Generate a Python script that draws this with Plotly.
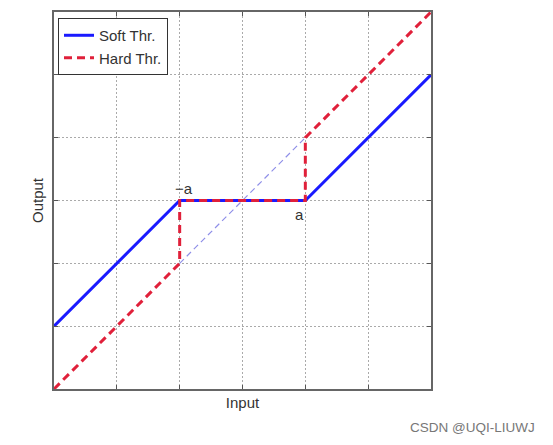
import plotly.graph_objects as go

# data
a = 1.0
x_soft = [-3, -1, 1, 3]
y_soft = [-2, 0, 0, 2]
x_hard = [-3, -1, -1, 1, 1, 3]
y_hard = [-3, -1, 0, 0, 1, 3]
x_ident = [-1, 1]
y_ident = [-1, 1]
grid_vals = [-3, -2, -1, 0, 1, 2, 3]

fig = go.Figure()
fig.add_trace(go.Scatter(x=x_ident, y=y_ident, mode="lines",
                         line=dict(color="#8f8fe8", width=1.2, dash="6px,4px"),
                         showlegend=False))
fig.add_trace(go.Scatter(x=x_soft, y=y_soft, mode="lines", name="Soft Thr.",
                         line=dict(color="#1a1aff", width=3)))
fig.add_trace(go.Scatter(x=x_hard, y=y_hard, mode="lines", name="Hard Thr.",
                         line=dict(color="#e0203a", width=3, dash="8px,5px")))

fig.add_annotation(x=-a, y=0, text="−a", showarrow=False, yshift=12, xshift=4,
                   font=dict(family="Liberation Sans, Arial", size=15, color="#333"))
fig.add_annotation(x=a, y=0, text="a", showarrow=False, yshift=-14, xshift=-6,
                   font=dict(family="Liberation Sans, Arial", size=15, color="#333"))

axis_common = dict(showticklabels=False, ticks="inside", ticklen=4, tickcolor="#555",
                   tickvals=grid_vals, showgrid=True, gridcolor="#aaa",
                   griddash="2px,2px", gridwidth=1, zeroline=False, automargin=False,
                   showline=True, linecolor="#666", linewidth=1.5, mirror="ticks")

fig.update_xaxes(range=[-3, 3], title=dict(text="Input", standoff=8,
                 font=dict(size=15, color="#333")), **axis_common)
fig.update_yaxes(range=[-3, 3], title=dict(text="Output", standoff=5,
                 font=dict(size=15, color="#333")), **axis_common)

fig.add_annotation(xref="paper", yref="paper", x=1.281, y=-0.1034, xanchor="right",
                   yanchor="middle", text="CSDN @UQI-LIUWJ", showarrow=False,
                   font=dict(size=13.5, color="#777"))

fig.update_layout(
    width=537, height=429,
    margin=dict(l=46, r=114, t=4, b=48),
    plot_bgcolor="white", paper_bgcolor="white",
    font=dict(family="Liberation Sans, Arial"),
    legend=dict(x=0.0106, y=0.984, xanchor="left", yanchor="top",
                bgcolor="white", bordercolor="#333", borderwidth=1,
                font=dict(size=15, color="#333"), tracegroupgap=0,
                itemwidth=30, itemclick=False),
)

fig.write_html("out.html")
